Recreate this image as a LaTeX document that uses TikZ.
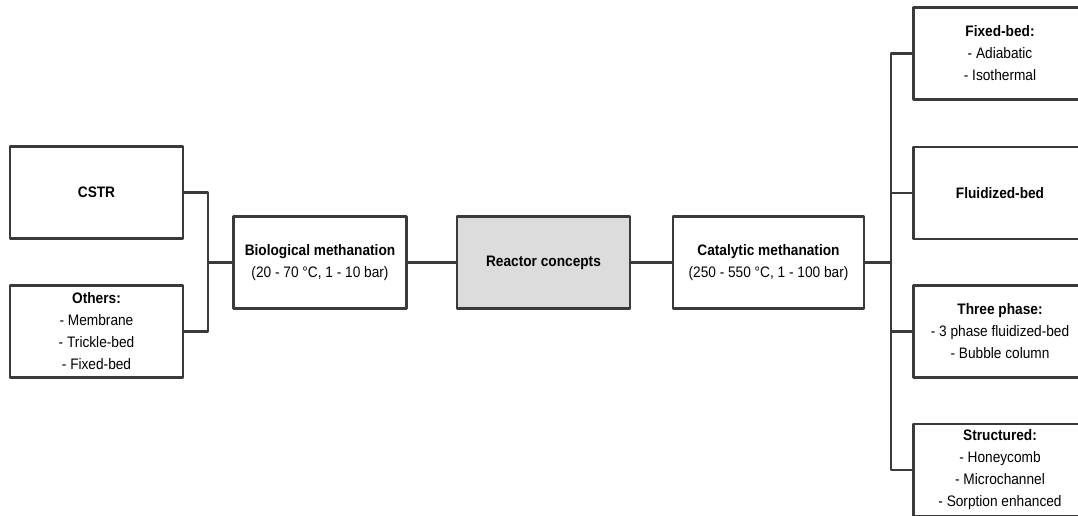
\documentclass[tikz,border=0pt]{standalone}
\usepackage{fontspec}
\setmainfont{Liberation Sans}[FakeStretch=0.9]
\definecolor{linegray}{HTML}{3A3A3A}
\definecolor{boxgray}{HTML}{DCDCDC}
\begin{document}
\begin{tikzpicture}[x=0.75pt,y=-0.75pt,line join=round,
	box/.style={draw=linegray,line width=1.7pt,fill=white,minimum width=173*0.75pt,minimum height=92*0.75pt,align=center,inner sep=0pt,font=\fontsize{11.4}{16.5}\selectfont},
	wire/.style={draw=linegray,line width=1.7pt}]
	\useasboundingbox (0,0) rectangle (1078,515);
	\clip (0,0) rectangle (1078,515);
	% left branch
	\node[box] (cstr) at (96.5,192.5) {\textbf{CSTR}};
	\node[box] (others) at (96.5,331.5) {\textbf{Others:}\\- Membrane\\- Trickle-bed\\- Fixed-bed};
	\node[box] (bio) at (320,262.5) {\textbf{Biological methanation}\\(20 - 70 °C, 1 - 10 bar)};
	% centre
	\node[box,fill=boxgray] (reactor) at (543.5,262.5) {\textbf{Reactor concepts}};
	% right branch
	\node[box,minimum width=191*0.75pt] (cat) at (768.5,262.5) {\textbf{Catalytic methanation}\\(250 - 550 °C, 1 - 100 bar)};
	\node[box] (fixed) at (1000,53.5) {\textbf{Fixed-bed:}\\- Adiabatic\\- Isothermal};
	\node[box] (fluid) at (1000,193) {\textbf{Fluidized-bed}};
	\node[box] (three) at (1000,331.5) {\textbf{Three phase:}\\- 3 phase fluidized-bed\\- Bubble column};
	\node[box] (struct) at (1000,470) {\textbf{Structured:}\\- Honeycomb\\- Microchannel\\- Sorption enhanced};
	% connectors
	\coordinate (jl) at (208,262.5);
	\coordinate (jr) at (891,262.5);
	\draw[wire] (cstr.east) -| (jl) |- (others.east);
	\draw[wire] (jl) -- (bio.west);
	\draw[wire] (bio.east) -- (reactor.west);
	\draw[wire] (reactor.east) -- (cat.west);
	\draw[wire] (cat.east) -- (jr);
	\draw[wire] (fixed.west) -| (jr) |- (struct.west);
	\foreach \n in {fluid,three}
	\draw[wire] (jr|-\n.west) -- (\n.west);
\end{tikzpicture}
\end{document}
